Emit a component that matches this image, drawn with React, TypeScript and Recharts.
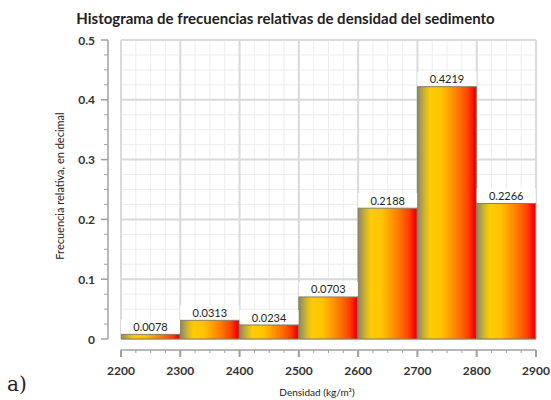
import React from 'react';
import { ComposedChart, Bar, XAxis, YAxis, CartesianGrid, LabelList } from 'recharts';

const binStarts = [2200, 2300, 2400, 2500, 2600, 2700, 2800];
const binMids = [2250, 2350, 2450, 2550, 2650, 2750, 2850];
const frequencies = [0.0078, 0.0313, 0.0234, 0.0703, 0.2188, 0.4219, 0.2266];
const xTicks = [2200, 2225, 2250, 2275, 2300, 2325, 2350, 2375, 2400, 2425, 2450, 2475, 2500, 2525, 2550, 2575, 2600, 2625, 2650, 2675, 2700, 2725, 2750, 2775, 2800, 2825, 2850, 2875, 2900];
const yTicks = [0, 0.025, 0.05, 0.075, 0.1, 0.125, 0.15, 0.175, 0.2, 0.225, 0.25, 0.275, 0.3, 0.325, 0.35, 0.375, 0.4, 0.425, 0.45, 0.475, 0.5];
const majorX = [2200, 2300, 2400, 2500, 2600, 2700, 2800, 2900];
const majorY = [0, 0.1, 0.2, 0.3, 0.4, 0.5];

const title = 'Histograma de frecuencias relativas de densidad del sedimento';
const yTitle = 'Frecuencia relativa, en decimal';
const xTitle = 'Densidad (kg/m³)';

const data = binMids.map((m, i) => ({ mid: m, start: binStarts[i], value: frequencies[i] }));

const FONT = 'Lato, "Open Sans", sans-serif';

const isMajorY = (v: number) => Math.abs(v * 10 - Math.round(v * 10)) < 1e-9;

const XTick = (props: any) => {
  const { x, y, payload, index, width } = props;
  const ay = y + 11;
  const major = payload.value % 100 === 0;
  return (
    <g>
      {index === 0 && (
        <line x1={x} x2={x + width} y1={ay} y2={ay} stroke="#b8b8b8" strokeWidth={2} />
      )}
      <line x1={x} x2={x} y1={ay} y2={ay + (major ? 7 : 3)} stroke="#a0a0a0" strokeWidth={major ? 2 : 1} />
      {major && (
        <text x={x} y={ay + 25} textAnchor="middle" fontFamily={FONT} fontWeight={700} fontSize={12} fill="#333">
          {payload.value}
        </text>
      )}
    </g>
  );
};

const YTick = (props: any) => {
  const { x, y, payload, index, height } = props;
  const ax = x - 13;
  const major = isMajorY(payload.value);
  return (
    <g>
      {index === 0 && (
        <line x1={ax} x2={ax} y1={y} y2={y - height} stroke="#b8b8b8" strokeWidth={2} />
      )}
      <line x1={ax - (major ? 7 : 4)} x2={ax} y1={y} y2={y} stroke="#a0a0a0" strokeWidth={major ? 1.5 : 1} />
      {major && (
        <text x={ax - 13} y={y} textAnchor="end" dominantBaseline="central" fontFamily={FONT} fontWeight={700} fontSize={12} fill="#333">
          {String(payload.value)}
        </text>
      )}
    </g>
  );
};

const renderLabel = (props: any) => {
  const { x, y, width, value } = props;
  const cx = x + width / 2;
  return (
    <g>
      <rect x={x} y={y - 15} width={width} height={14} fill="#ffffff" />
      <text x={cx} y={y - 8} textAnchor="middle" dominantBaseline="central" fontFamily={FONT} fontSize={11} fill="#222">
        {Number(value).toFixed(4)}
      </text>
    </g>
  );
};

export default function App() {
  return (
    <div style={{ position: 'absolute', left: 0, top: 0, width: 551, height: 400, background: '#fff' }}>
      <ComposedChart
        width={551}
        height={400}
        data={data}
        margin={{ top: 40, right: 15, left: 0, bottom: 0 }}
        barCategoryGap={0}
        barGap={0}
      >
        <defs>
          <linearGradient id="barGrad" x1="0" y1="0" x2="1" y2="0">
            <stop offset="0" stopColor="#88886a" />
            <stop offset="0.12" stopColor="#cdb42c" />
            <stop offset="0.22" stopColor="#ffcc00" />
            <stop offset="0.4" stopColor="#ffc400" />
            <stop offset="0.56" stopColor="#ff9a00" />
            <stop offset="0.7" stopColor="#ff7400" />
            <stop offset="0.86" stopColor="#ff4000" />
            <stop offset="0.96" stopColor="#ff0000" />
            <stop offset="1" stopColor="#c01818" />
          </linearGradient>
        </defs>
        <CartesianGrid stroke="#ededed" strokeWidth={1} />
        <CartesianGrid
          stroke="#dadada"
          strokeWidth={2}
          horizontalValues={majorY}
          verticalValues={majorX}
        />
        <XAxis
          dataKey="mid"
          type="number"
          domain={[2200, 2900]}
          ticks={xTicks}
          interval={0}
          height={61}
          axisLine={false}
          tickLine={false}
          tickSize={0}
          tickMargin={0}
          tick={<XTick />}
          allowDataOverflow
        />
        <YAxis
          type="number"
          domain={[0, 0.5]}
          ticks={yTicks}
          interval={0}
          width={121}
          axisLine={false}
          tickLine={false}
          tickSize={0}
          tickMargin={0}
          tick={<YTick />}
        />
        <Bar
          dataKey="value"
          fill="url(#barGrad)"
          stroke="#8c7c5a"
          strokeWidth={1}
          isAnimationActive={false}
        >
          <LabelList dataKey="value" content={renderLabel} />
        </Bar>
      </ComposedChart>
      <div
        style={{
          position: 'absolute', left: 0, top: 9, width: 571, textAlign: 'center',
          fontFamily: FONT, fontWeight: 700, fontSize: 15, color: '#222', whiteSpace: 'nowrap',
        }}
      >
        {title}
      </div>
      <div
        style={{
          position: 'absolute', left: 59, top: 186, transform: 'translate(-50%, -50%) rotate(-90deg)',
          fontFamily: FONT, fontSize: 11, color: '#222', whiteSpace: 'nowrap',
        }}
      >
        {yTitle}
      </div>
      <div
        style={{
          position: 'absolute', left: 317, top: 392, transform: 'translate(-50%, -50%)',
          fontFamily: FONT, fontSize: 10, color: '#222', whiteSpace: 'nowrap',
        }}
      >
        {xTitle}
      </div>
      <div
        style={{
          position: 'absolute', left: 7, top: 372,
          fontFamily: '"DejaVu Serif", "Liberation Serif", serif', fontSize: 20, color: '#222',
        }}
      >
        a)
      </div>
    </div>
  );
}
